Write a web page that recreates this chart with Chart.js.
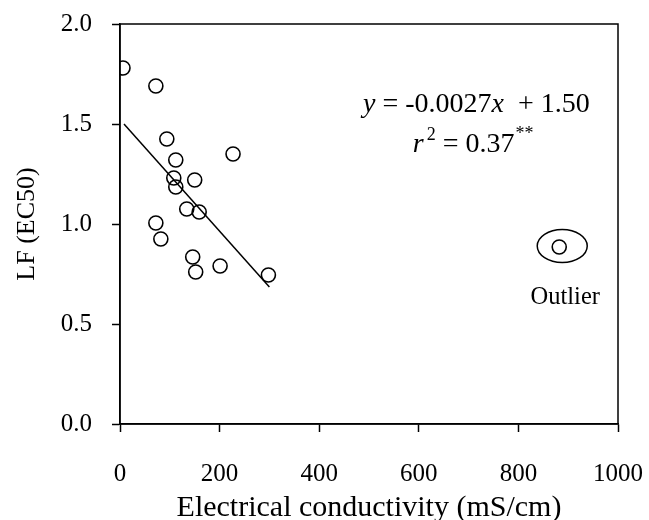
<!DOCTYPE html>
<html>
<head>
<meta charset="utf-8">
<script src="https://cdn.jsdelivr.net/npm/chart.js@4.4.0/dist/chart.umd.min.js"></script>
<style>
  html, body { margin: 0; padding: 0; background: #fff; }
  #wrap { width: 649px; height: 520px; }
</style>
</head>
<body>
<div id="wrap"><canvas id="lfChart"></canvas></div>
<script>
// data
var ecValues = [6, 72, 94, 112, 227, 108, 150, 112, 134, 159, 72, 82, 146, 152, 201, 298];
var lfValues = [1.78, 1.69, 1.425, 1.32, 1.35, 1.23, 1.22, 1.185, 1.075, 1.06, 1.005, 0.925, 0.835, 0.76, 0.79, 0.745];
var outlierEC = [882];
var outlierLF = [0.885];
var fitEC = [8, 300];
var fitLF = [1.50, 0.685];
var xTicks = [0, 200, 400, 600, 800, 1000];
var yTicks = [0, 0.5, 1.0, 1.5, 2.0];

var serif = '"Liberation Serif", "Times New Roman", serif';
Chart.defaults.font.family = serif;
Chart.defaults.color = '#000';

function toPoints(xs, ys) {
    var out = [];
    for (var i = 0; i < xs.length; i++) out.push({ x: xs[i], y: ys[i] });
    return out;
}

// frame, equation and outlier note
var extras = {
    id: 'extras',
    afterDraw: function(chart) {
        var ctx = chart.ctx, a = chart.chartArea;
        var xs = chart.scales.x, ys = chart.scales.y;
        ctx.save();
        ctx.strokeStyle = '#000';
        ctx.lineWidth = 1.5;
        ctx.strokeRect(a.left, a.top, a.right - a.left, a.bottom - a.top);

        // ellipse round the outlier
        var cx = xs.getPixelForValue(outlierEC[0]) + 3;
        var cy = ys.getPixelForValue(outlierLF[0]) - 1;
        ctx.beginPath();
        ctx.ellipse(cx, cy, 25, 16.5, 0, 0, Math.PI * 2);
        ctx.stroke();

        ctx.fillStyle = '#000';
        ctx.textBaseline = 'alphabetic';
        ctx.textAlign = 'center';
        ctx.font = '24.5px ' + serif;
        ctx.fillText('Outlier', cx + 3, cy + 58);

        // regression equation
        ctx.textAlign = 'left';
        var px = xs.getPixelForValue(488), py = ys.getPixelForValue(1.56);
        var parts = [
            ['italic 28px ', 'y'],
            ['28px ', ' = -0.0027'],
            ['italic 28px ', 'x'],
            ['28px ', '  + 1.50']
        ];
        parts.forEach(function(p) {
            ctx.font = p[0] + serif;
            ctx.fillText(p[1], px, py);
            px += ctx.measureText(p[1]).width;
        });

        px = xs.getPixelForValue(588);
        py = ys.getPixelForValue(1.36);
        ctx.font = 'italic 28px ' + serif;
        ctx.fillText('r', px, py);
        px += ctx.measureText('r').width + 3;
        ctx.font = '18px ' + serif;
        ctx.fillText('2', px, py - 12);
        px += ctx.measureText('2').width;
        ctx.font = '28px ' + serif;
        ctx.fillText(' = 0.37', px, py);
        px += ctx.measureText(' = 0.37').width + 1;
        ctx.font = '18px ' + serif;
        ctx.fillText('**', px, py - 13);
        ctx.restore();
    }
};

var ctx = document.getElementById('lfChart').getContext('2d');
var chart = new Chart(ctx, {
    type: 'scatter',
    data: {
        datasets: [{
                label: 'LF',
                data: toPoints(ecValues, lfValues),
                pointStyle: 'circle',
                pointRadius: 7,
                pointBorderWidth: 1.6,
                borderColor: '#000',
                backgroundColor: 'rgba(0,0,0,0)'
            },
            {
                label: 'Outlier',
                data: toPoints(outlierEC, outlierLF),
                pointStyle: 'circle',
                pointRadius: 7,
                pointBorderWidth: 1.6,
                borderColor: '#000',
                backgroundColor: 'rgba(0,0,0,0)'
            },
            {
                label: 'Fit',
                type: 'line',
                data: toPoints(fitEC, fitLF),
                borderColor: '#000',
                borderWidth: 1.5,
                pointRadius: 0,
                fill: false
            }
        ]
    },
    options: {
        responsive: true,
        maintainAspectRatio: false,
        animation: false,
        events: [],
        layout: { padding: { left: 0, top: 24, right: 31, bottom: 0 } },
        plugins: {
            legend: { display: false },
            tooltip: { enabled: false }
        },
        scales: {
            x: {
                type: 'linear',
                min: 0,
                max: 1000,
                afterFit: function(s) {
                    s.height = 96;
                    s.paddingLeft = 0;
                    s.paddingRight = 0;
                },
                afterBuildTicks: function(s) { s.ticks = xTicks.map(function(v) { return { value: v }; }); },
                ticks: {
                    padding: 27,
                    maxRotation: 0,
                    font: { size: 25 },
                    callback: function(v) { return String(v); }
                },
                grid: { drawOnChartArea: false, drawTicks: true, tickLength: 8, tickColor: '#000', tickWidth: 1.5 },
                border: { display: true, color: '#000', width: 1.5 },
                title: {
                    display: true,
                    text: 'Electrical conductivity (mS/cm)',
                    font: { size: 30, lineHeight: 0.8 },
                    padding: 0
                }
            },
            y: {
                type: 'linear',
                min: 0,
                max: 2,
                afterFit: function(s) {
                    s.width = 120;
                    s.paddingTop = 0;
                    s.paddingBottom = 0;
                },
                afterBuildTicks: function(s) { s.ticks = yTicks.map(function(v) { return { value: v }; }); },
                ticks: {
                    padding: 20,
                    font: { size: 25 },
                    callback: function(v) { return v.toFixed(1); }
                },
                grid: { drawOnChartArea: false, drawTicks: true, tickLength: 8, tickColor: '#000', tickWidth: 1.5 },
                border: { display: true, color: '#000', width: 1.5 },
                title: {
                    display: true,
                    text: 'LF (EC50)',
                    font: { size: 26, lineHeight: 1 },
                    padding: { top: 14, bottom: 0 }
                }
            }
        }
    },
    plugins: [extras]
});
</script>
</body>
</html>
